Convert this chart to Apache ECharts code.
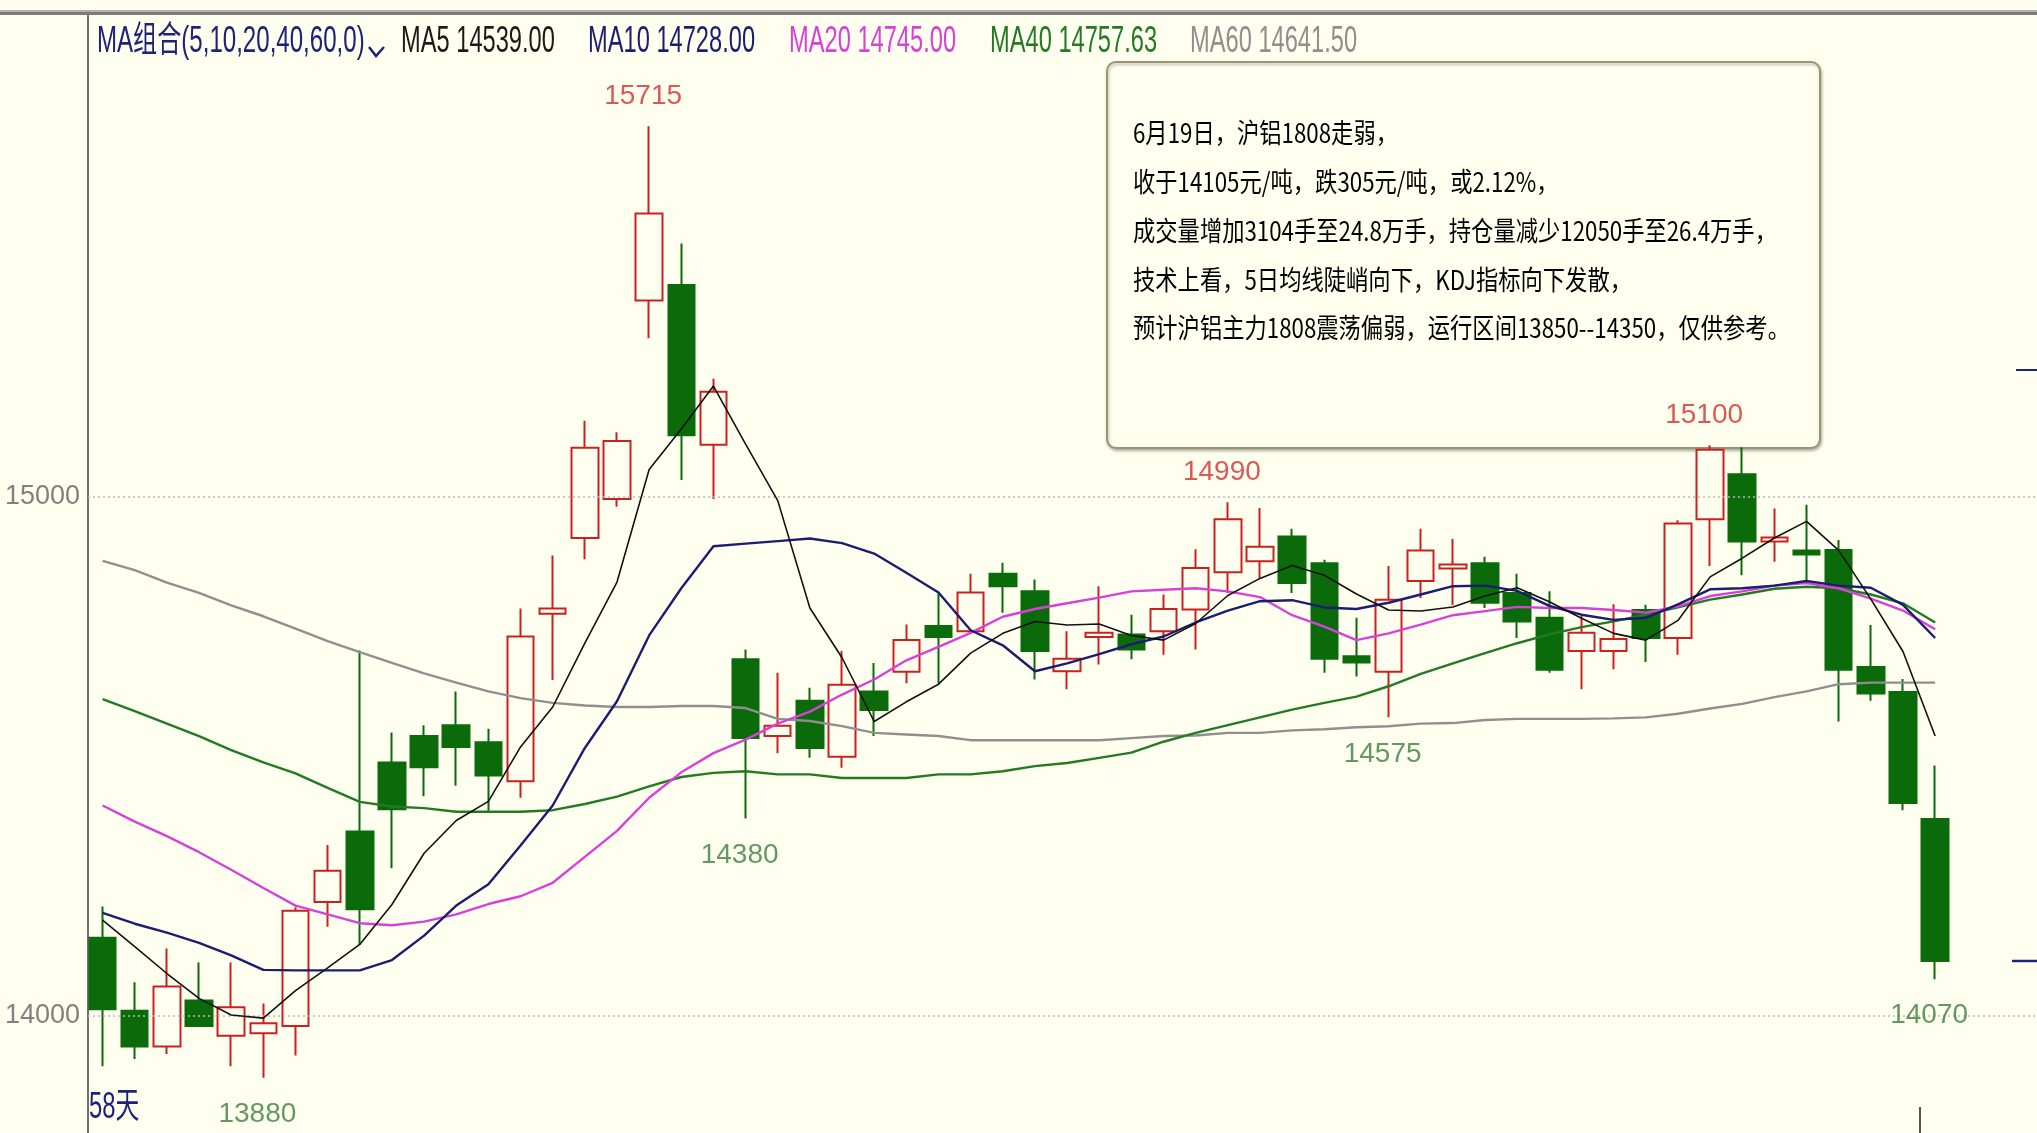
<!DOCTYPE html>
<html>
<head>
<meta charset="utf-8">
<script src="https://cdn.jsdelivr.net/npm/echarts@6.0.0/dist/echarts.min.js"></script>
<style>
html,body{margin:0;padding:0;background:#fffff0;overflow:hidden;}
#chart{width:2037px;height:1133px;}
</style>
</head>
<body>
<div id="chart"></div>
<script>
// ---------- data ----------
const days = [1,2,3,4,5,6,7,8,9,10,11,12,13,14,15,16,17,18,19,20,21,22,23,24,25,26,27,28,29,30,
  31,32,33,34,35,36,37,38,39,40,41,42,43,44,45,46,47,48,49,50,51,52,53,54,55,56,57,58];

const opens = [14150,14009,13940,14029,13961,13966,13980,14219,14355,14488,
  14539,14560,14527,14452,14775,14921,14996,15379,15409,15101,
  14687,14539,14607,14499,14625,14663,14751,14741,14852,14818,
  14664,14730,14735,14741,14783,14855,14876,14924,14872,14693,
  14663,14838,14862,14872,14815,14767,14703,14703,14782,14728,
  14957,15044,14914,14897,14898,14672,14624,14379];

const closes = [14012,13940,14056,13980,14016,13985,14202,14279,14205,14398,
  14479,14518,14463,14731,14785,15095,15108,15547,15119,15203,
  14535,14559,14516,14638,14589,14724,14730,14816,14828,14703,
  14688,14738,14706,14784,14863,14957,14904,14834,14688,14681,
  14802,14897,14870,14796,14760,14667,14738,14726,14728,14949,
  15091,14914,14922,14889,14667,14621,14410,14105];

const lows = [13902,13916,13926,13978,13902,13880,13923,14171,14136,14284,
  14423,14443,14391,14420,14647,14880,14981,15306,15033,14996,
  14380,14506,14497,14478,14539,14641,14641,14738,14777,14648,
  14629,14677,14687,14696,14706,14815,14844,14815,14661,14654,
  14575,14805,14791,14786,14728,14661,14629,14668,14682,14696,
  14867,14849,14875,14835,14567,14607,14396,14070];

const highs = [14210,14064,14129,14102,14102,14023,14209,14329,14704,14546,
  14560,14625,14553,14785,14887,15147,15125,15715,15489,15228,
  14706,14661,14632,14703,14680,14754,14815,14852,14873,14841,
  14741,14828,14773,14812,14899,14990,14979,14939,14879,14767,
  14867,14939,14919,14885,14852,14818,14773,14793,14792,14955,
  15100,15096,14978,14985,14917,14753,14649,14482];

const ma5 = [14184,14133,14081,14033,14001,13995,14048,14092,14137,14214,
  14313,14376,14413,14518,14595,14718,14836,15053,15131,15214,
  15102,14993,14786,14690,14567,14605,14639,14699,14737,14760,
  14753,14755,14733,14724,14756,14810,14843,14868,14849,14813,
  14782,14780,14788,14809,14825,14798,14766,14737,14724,14762,
  14846,14882,14921,14953,14897,14803,14702,14539];

const ma10 = [14198,14177,14160,14140,14116,14088,14087,14087,14087,14107,
  14154,14212,14253,14328,14405,14516,14606,14733,14824,14905,
  14910,14915,14920,14911,14891,14854,14816,14743,14714,14664,
  14679,14697,14716,14731,14758,14781,14799,14801,14787,14784,
  14796,14812,14828,14829,14819,14790,14773,14763,14767,14793,
  14822,14824,14829,14838,14829,14825,14792,14728];

const ma20 = [14405,14374,14346,14315,14281,14246,14212,14195,14178,14174,
  14181,14195,14215,14230,14256,14306,14356,14420,14469,14506,
  14532,14563,14586,14619,14648,14685,14711,14738,14769,14784,
  14795,14806,14818,14821,14824,14818,14807,14772,14750,14724,
  14737,14754,14772,14780,14788,14786,14786,14782,14777,14789,
  14809,14818,14829,14834,14824,14804,14781,14745];

const ma40 = [14610,14587,14563,14539,14512,14488,14467,14439,14412,14403,
  14400,14393,14393,14393,14396,14408,14422,14442,14460,14468,
  14471,14465,14465,14458,14458,14458,14465,14465,14471,14481,
  14487,14497,14507,14528,14545,14560,14575,14590,14603,14615,
  14635,14659,14679,14699,14718,14735,14749,14760,14773,14787,
  14802,14812,14823,14827,14824,14812,14795,14758];

const ma60 = [14877,14859,14835,14815,14791,14770,14746,14722,14701,14680,
  14660,14642,14625,14612,14603,14598,14595,14595,14597,14597,
  14593,14572,14568,14558,14545,14542,14539,14531,14531,14531,
  14531,14531,14535,14539,14540,14545,14545,14550,14552,14556,
  14558,14563,14564,14570,14572,14572,14572,14573,14575,14582,
  14592,14601,14614,14625,14639,14642,14642,14642];

const yTicks = [14000, 15000];

const highLabelDays = [18, 36, 51];
const highLabelValues = [15715, 14990, 15100];
const lowLabelDays = [6, 21, 41, 58];
const lowLabelValues = [13880, 14380, 14575, 14070];

const headerTitle = 'MA组合(5,10,20,40,60,0)';
const maNames = ['MA5', 'MA10', 'MA20', 'MA40', 'MA60'];
const maLatest = ['14539.00', '14728.00', '14745.00', '14757.63', '14641.50'];
const dayCountText = '58天';

const noteLines = [
  '6月19日，沪铝1808走弱，',
  '收于14105元/吨，跌305元/吨，或2.12%，',
  '成交量增加3104手至24.8万手，持仓量减少12050手至26.4万手，',
  '技术上看，5日均线陡峭向下，KDJ指标向下发散，',
  '预计沪铝主力1808震荡偏弱，运行区间13850--14350，仅供参考。'
];

// ---------- styles ----------
const BG = '#fffff0';
const SANS = "'Liberation Sans','Noto Sans CJK SC',sans-serif";
const CJK = "'Noto Sans CJK SC','Noto Sans',sans-serif";
const UP = '#cc2020';
const DOWN = '#0b6b0b';
const maColors = ['#111111', '#1c1c72', '#d93fd9', '#237a23', '#8f8f8f'];
const maWidths = [1.6, 2.4, 2.4, 2.4, 2.4];
const headerX = [401, 588, 789, 990, 1190];

const chart = echarts.init(document.getElementById('chart'), null, {renderer: 'canvas', width: 2037, height: 1133});

const candleData = days.map((d, i) => [d, opens[i], closes[i], lows[i], highs[i]]);
const maArrays = [ma5, ma10, ma20, ma40, ma60];

const lineSeries = maArrays.map((arr, k) => ({
  name: maNames[k],
  type: 'line',
  data: days.map((d, i) => [d, arr[i]]),
  symbol: 'none',
  lineStyle: {color: maColors[k], width: maWidths[k]},
  z: 5 + (4 - k),
  silent: true
}));

function labelSeries(dArr, vArr, color, pos) {
  return {
    type: 'scatter',
    data: dArr.map((d, i) => [d, vArr[i]]),
    symbolSize: 1,
    itemStyle: {color: 'rgba(0,0,0,0)'},
    silent: true,
    z: 20,
    label: {
      show: true,
      position: pos,
      distance: pos === 'top' ? 15 : 22,
      offset: [-6, 0],
      formatter: p => String(p.value[1]),
      color: color,
      fontFamily: SANS,
      fontSize: 28
    }
  };
}

const graphics = [];
// top border
graphics.push({type: 'rect', shape: {x: 0, y: 10, width: 2037, height: 2}, style: {fill: '#b0b0b0'}, z: 50});
graphics.push({type: 'rect', shape: {x: 0, y: 12, width: 2037, height: 3}, style: {fill: '#7c7c7c'}, z: 50});
// header
graphics.push({type: 'text', x: 97, y: 42, scaleX: 0.86, scaleY: 1.3, z: 50,
  style: {text: headerTitle, fill: '#1f2378', fontFamily: SANS, fontSize: 28, verticalAlign: 'middle'}});
graphics.push({type: 'polyline', shape: {points: [[369, 47], [376, 56], [384, 47]]},
  style: {stroke: '#1f2378', lineWidth: 2.5, fill: null}, z: 50});
maNames.forEach((n, k) => {
  graphics.push({type: 'text', x: headerX[k], y: 42, scaleX: 0.845, scaleY: 1.3, z: 50,
    style: {text: n + ' ' + maLatest[k], fill: k === 0 ? '#1a1a1a' : maColors[k], fontFamily: SANS, fontSize: 28, verticalAlign: 'middle'}});
});
// note box
graphics.push({type: 'rect', shape: {x: 1107, y: 62, width: 713, height: 386, r: 9},
  style: {fill: BG, stroke: '#9b9472', lineWidth: 2, shadowBlur: 3, shadowOffsetX: 1, shadowOffsetY: 2, shadowColor: 'rgba(60,60,40,0.35)'}, z: 1});
noteLines.forEach((t, i) => {
  graphics.push({type: 'text', x: 1133, y: 133 + i * 48.8, scaleY: 1.2, z: 2,
    style: {text: t, fill: '#000', fontFamily: CJK, fontSize: 22.3, verticalAlign: 'middle'}});
});
// day count
graphics.push({type: 'text', x: 89, y: 1108, scaleX: 0.85, scaleY: 1.3, z: 50,
  style: {text: dayCountText, fill: '#1f2378', fontFamily: SANS, fontSize: 28, verticalAlign: 'middle'}});
// right-edge markers
graphics.push({type: 'line', shape: {x1: 2016, y1: 370, x2: 2037, y2: 370}, style: {stroke: '#1f2378', lineWidth: 2}, z: 50});
graphics.push({type: 'line', shape: {x1: 2012, y1: 961, x2: 2037, y2: 961}, style: {stroke: '#1f2378', lineWidth: 2.5}, z: 50});
graphics.push({type: 'line', shape: {x1: 1920, y1: 1107, x2: 1920, y2: 1133}, style: {stroke: '#555', lineWidth: 2}, z: 50});

const option = {
  backgroundColor: BG,
  animation: false,
  grid: {left: 88, right: 0, top: 15, bottom: 0, containLabel: false, outerBoundsMode: 'none'},
  xAxis: {type: 'value', min: 0.546, max: 61.168, show: false, splitLine: {show: false}},
  yAxis: {
    type: 'value', min: 13773.4, max: 15929.6, position: 'left',
    axisLine: {show: true, lineStyle: {color: '#6f6f6f', width: 2}},
    axisTick: {show: false, customValues: yTicks},
    splitLine: {show: false},
    axisLabel: {customValues: yTicks, color: '#808080', fontFamily: SANS, fontSize: 27, margin: 8,
      formatter: v => String(v)}
  },
  graphic: graphics,
  series: [
    {
      type: 'candlestick',
      data: candleData,
      encode: {x: 0, y: [1, 2, 3, 4]},
      barWidth: 27,
      z: 3,
      silent: true,
      itemStyle: {color: BG, color0: DOWN, borderColor: UP, borderColor0: DOWN, borderWidth: 2},
      markLine: {
        silent: true, symbol: 'none', label: {show: false},
        lineStyle: {type: [2, 3], color: '#b9b9b9', width: 1.5},
        data: yTicks.map(v => ({yAxis: v}))
      }
    },
    ...lineSeries,
    labelSeries(highLabelDays, highLabelValues, '#d03030', 'top'),
    labelSeries(lowLabelDays, lowLabelValues, '#3d7d3d', 'bottom')
  ]
};
chart.setOption(option);
</script>
</body>
</html>
